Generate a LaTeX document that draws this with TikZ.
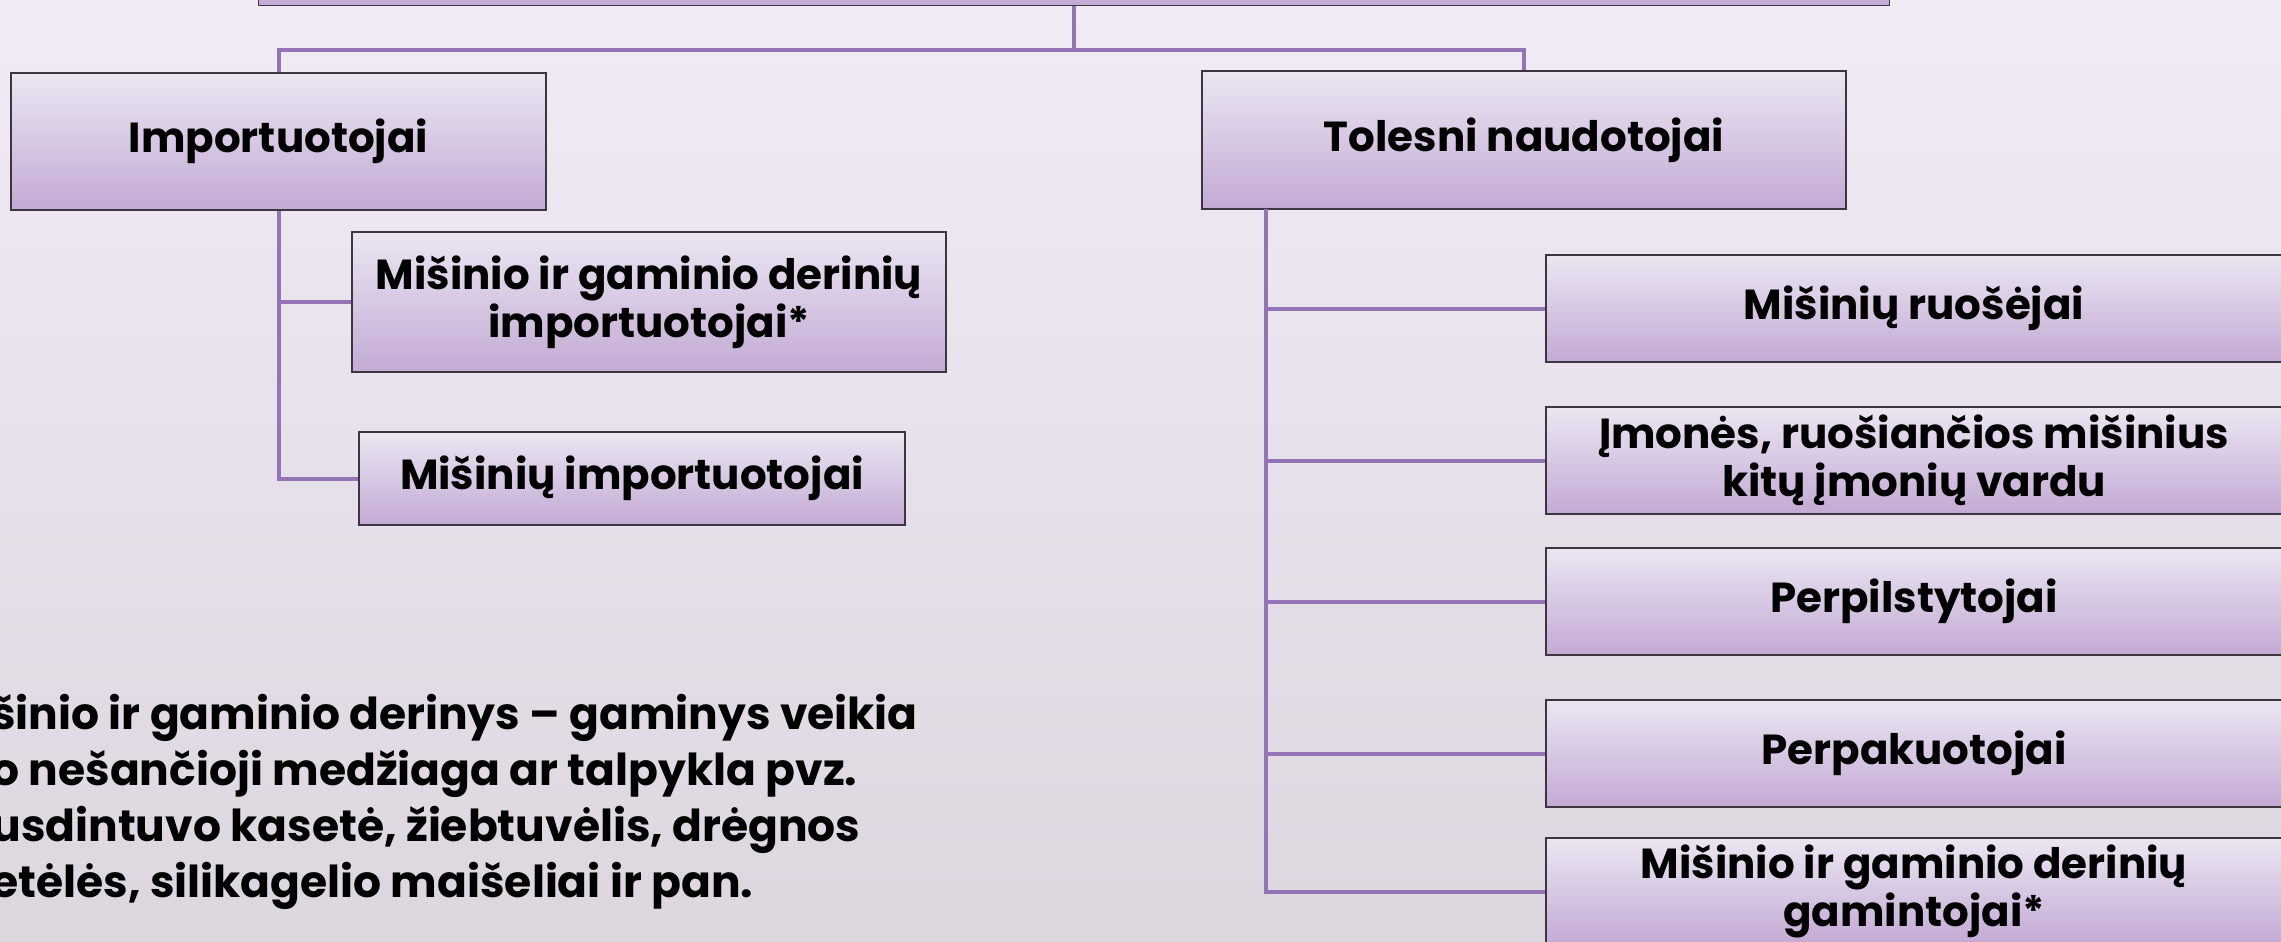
\documentclass[tikz,border=0pt]{standalone}
\usepackage{fontspec}
\setmainfont{Poppins}
\definecolor{bgtop}{RGB}{240,235,245}
\definecolor{bgbot}{RGB}{220,214,223}
\definecolor{boxtop}{RGB}{235,230,242}
\definecolor{boxbot}{RGB}{195,170,212}
\definecolor{linkc}{RGB}{148,116,180}
\definecolor{edgec}{RGB}{60,54,66}
\begin{document}
\begin{tikzpicture}
  [x=0.5pt,y=-0.5pt,
   box/.style={rectangle,draw=edgec,line width=0.9pt,top color=boxtop,bottom color=boxbot,
     font=\bfseries\fontsize{21}{24}\selectfont,align=center,inner sep=0pt},
   side/.style={box,minimum width=368pt,minimum height=53.5pt},
   link/.style={draw=linkc,line width=2pt}]
  \useasboundingbox (0,0) rectangle (2281,942);
  \shade[top color=bgtop,bottom color=bgbot] (0,0) rectangle (2281,942);

  \node[box,minimum width=815.5pt,minimum height=52.5pt] (top) at (1074,-47) {};
  \node[box,minimum width=267.5pt,minimum height=68.5pt] (imp) at (278.5,141.5) {Importuotojai};
  \node[box,minimum width=322pt,minimum height=69pt] (tol) at (1524,140) {Tolesni naudotojai};
  \node[box,minimum width=297pt,minimum height=70pt] (mig) at (649,302) {Mišinio ir gaminio derinių\\importuotojai*};
  \node[box,minimum width=273pt,minimum height=46.5pt] (mimp) at (632,478.5) {Mišinių importuotojai};
  \node[side] (rr) at (1914,308.5) {Mišinių ruošėjai};
  \node[side] (imon) at (1914,460.5) {Įmonės, ruošiančios mišinius\\kitų įmonių vardu};
  \node[side] (perp) at (1914,601.5) {Perpilstytojai};
  \node[side] (perk) at (1914,753.5) {Perpakuotojai};
  \node[side] (mgg) at (1914,891.5) {Mišinio ir gaminio derinių\\gamintojai*};

  \coordinate (hub) at (1074,50);
  \coordinate (stem) at (1265.5,209);
  \draw[link] (top) -- (hub);
  \foreach \to in {imp,tol}
    \draw[link] (hub) -| (\to);
  \foreach \to in {mig,mimp}
    \draw[link] (imp) |- (\to);
  \foreach \to in {rr,imon,perp,perk,mgg}
    \draw[link] (stem) |- (\to);

  \node[anchor=north west,align=left,inner sep=0pt,font=\bfseries\fontsize{22}{28}\selectfont] (note) at (-9,694)
    {šinio ir gaminio derinys – gaminys veikia\\o nešančioji medžiaga ar talpykla pvz.\\usdintuvo kasetė, žiebtuvėlis, drėgnos\\etėlės, silikagelio maišeliai ir pan.};
\end{tikzpicture}
\end{document}
